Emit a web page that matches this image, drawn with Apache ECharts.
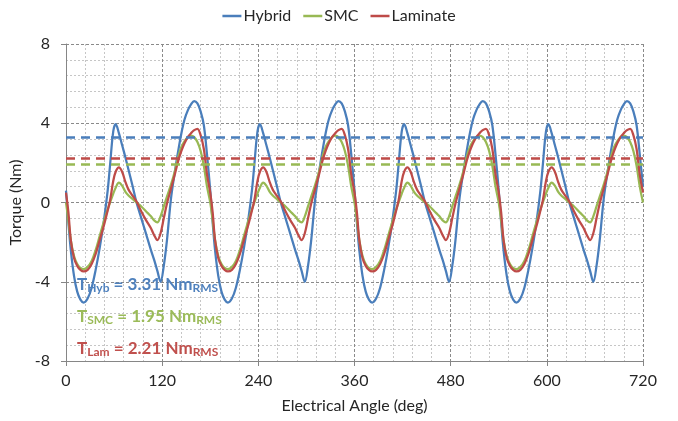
<!DOCTYPE html>
<html><head><meta charset="utf-8">
<script src="https://cdn.jsdelivr.net/npm/echarts@6/dist/echarts.min.js"></script>
<style>html,body{margin:0;padding:0;background:#fff}#c{width:678px;height:421px}</style>
</head><body><div id="c"></div>
<script>
const seriesNames = ['Hybrid', 'SMC', 'Laminate'];
const xTicks = [0, 120, 240, 360, 480, 600, 720];
const yTicks = [-8, -4, 0, 4, 8];
const rmsHybrid = 3.31;
const rmsSMC = 1.95;
const rmsLaminate = 2.21;

const angles = [
0,3,6,10,14,18,22,27,32,37,42,47,52,55,59,62,66,70,74,78,83,88,94,100,106,110,114,118,122,126,131,136,140,144,148,152,156,160,164,168,172,176,
180,183,186,190,194,198,202,207,212,217,222,227,232,235,239,242,246,250,254,258,263,268,274,280,286,290,294,298,302,306,311,316,320,324,328,332,336,340,344,348,352,356,
360,363,366,370,374,378,382,387,392,397,402,407,412,415,419,422,426,430,434,438,443,448,454,460,466,470,474,478,482,486,491,496,500,504,508,512,516,520,524,528,532,536,
540,543,546,550,554,558,562,567,572,577,582,587,592,595,599,602,606,610,614,618,623,628,634,640,646,650,654,658,662,666,671,676,680,684,688,692,696,700,704,708,712,716,
720];

const hybrid = [
0.6,-1.0,-2.4,-3.7,-4.5,-4.9,-5.05,-4.85,-4.3,-3.4,-2.3,-1.0,0.6,1.9,3.6,3.95,3.5,2.9,2.3,1.65,0.85,0.0,-0.8,-1.6,-2.4,-2.9,-3.45,-4.0,-3.2,-1.9,0.2,1.6,2.6,3.5,4.2,4.65,4.95,5.12,5.0,4.6,3.9,2.4,
0.6,-1.0,-2.4,-3.7,-4.5,-4.9,-5.05,-4.85,-4.3,-3.4,-2.3,-1.0,0.6,1.9,3.6,3.95,3.5,2.9,2.3,1.65,0.85,0.0,-0.8,-1.6,-2.4,-2.9,-3.45,-4.0,-3.2,-1.9,0.2,1.6,2.6,3.5,4.2,4.65,4.95,5.12,5.0,4.6,3.9,2.4,
0.6,-1.0,-2.4,-3.7,-4.5,-4.9,-5.05,-4.85,-4.3,-3.4,-2.3,-1.0,0.6,1.9,3.6,3.95,3.5,2.9,2.3,1.65,0.85,0.0,-0.8,-1.6,-2.4,-2.9,-3.45,-4.0,-3.2,-1.9,0.2,1.6,2.6,3.5,4.2,4.65,4.95,5.12,5.0,4.6,3.9,2.4,
0.6,-1.0,-2.4,-3.7,-4.5,-4.9,-5.05,-4.85,-4.3,-3.4,-2.3,-1.0,0.6,1.9,3.6,3.95,3.5,2.9,2.3,1.65,0.85,0.0,-0.8,-1.6,-2.4,-2.9,-3.45,-4.0,-3.2,-1.9,0.2,1.6,2.6,3.5,4.2,4.65,4.95,5.12,5.0,4.6,3.9,2.4,
0.8];

const smc = [
0.0,-0.9,-1.9,-2.7,-3.1,-3.3,-3.36,-3.25,-2.95,-2.4,-1.7,-1.0,-0.35,0.0,0.45,0.75,1.0,0.85,0.55,0.35,0.18,0.0,-0.2,-0.45,-0.7,-0.9,-1.0,-0.7,-0.2,0.3,0.9,1.6,2.3,2.8,3.1,3.3,3.38,3.3,3.05,2.6,1.85,0.8,
0.0,-0.9,-1.9,-2.7,-3.1,-3.3,-3.36,-3.25,-2.95,-2.4,-1.7,-1.0,-0.35,0.0,0.45,0.75,1.0,0.85,0.55,0.35,0.18,0.0,-0.2,-0.45,-0.7,-0.9,-1.0,-0.7,-0.2,0.3,0.9,1.6,2.3,2.8,3.1,3.3,3.38,3.3,3.05,2.6,1.85,0.8,
0.0,-0.9,-1.9,-2.7,-3.1,-3.3,-3.36,-3.25,-2.95,-2.4,-1.7,-1.0,-0.35,0.0,0.45,0.75,1.0,0.85,0.55,0.35,0.18,0.0,-0.2,-0.45,-0.7,-0.9,-1.0,-0.7,-0.2,0.3,0.9,1.6,2.3,2.8,3.1,3.3,3.38,3.3,3.05,2.6,1.85,0.8,
0.0,-0.9,-1.9,-2.7,-3.1,-3.3,-3.36,-3.25,-2.95,-2.4,-1.7,-1.0,-0.35,0.0,0.45,0.75,1.0,0.85,0.55,0.35,0.18,0.0,-0.2,-0.45,-0.7,-0.9,-1.0,-0.7,-0.2,0.3,0.9,1.6,2.3,2.8,3.1,3.3,3.38,3.3,3.05,2.6,1.85,0.8,
0.0];

const laminate = [
0.5,-0.5,-1.9,-2.8,-3.2,-3.4,-3.48,-3.4,-3.1,-2.6,-1.9,-1.2,-0.4,0.1,1.1,1.55,1.77,1.55,1.05,0.65,0.35,0.05,-0.45,-0.9,-1.3,-1.65,-1.9,-1.55,-0.8,-0.05,0.7,1.45,2.1,2.6,3.0,3.3,3.5,3.65,3.72,3.4,2.7,1.4,
0.5,-0.5,-1.9,-2.8,-3.2,-3.4,-3.48,-3.4,-3.1,-2.6,-1.9,-1.2,-0.4,0.1,1.1,1.55,1.77,1.55,1.05,0.65,0.35,0.05,-0.45,-0.9,-1.3,-1.65,-1.9,-1.55,-0.8,-0.05,0.7,1.45,2.1,2.6,3.0,3.3,3.5,3.65,3.72,3.4,2.7,1.4,
0.5,-0.5,-1.9,-2.8,-3.2,-3.4,-3.48,-3.4,-3.1,-2.6,-1.9,-1.2,-0.4,0.1,1.1,1.55,1.77,1.55,1.05,0.65,0.35,0.05,-0.45,-0.9,-1.3,-1.65,-1.9,-1.55,-0.8,-0.05,0.7,1.45,2.1,2.6,3.0,3.3,3.5,3.65,3.72,3.4,2.7,1.4,
0.5,-0.5,-1.9,-2.8,-3.2,-3.4,-3.48,-3.4,-3.1,-2.6,-1.9,-1.2,-0.4,0.1,1.1,1.55,1.77,1.55,1.05,0.65,0.35,0.05,-0.45,-0.9,-1.3,-1.65,-1.9,-1.55,-0.8,-0.05,0.7,1.45,2.1,2.6,3.0,3.3,3.5,3.65,3.72,3.4,2.7,1.4,
0.5];

const lineColors = ['#4A7EBB', '#98B954', '#BE4B48'];
const textColors = ['#4F81BD', '#9BBB59', '#C0504D'];
const FONT = 'Lato, "Liberation Sans", sans-serif';

function pairs(vals) { return angles.map((a, i) => [a, vals[i]]); }
function rmsLine(v, color) {
  return {
    silent: true, symbol: 'none', animation: false,
    label: { show: false },
    lineStyle: { color: color, width: 2.6, type: [9, 6] },
    emphasis: { disabled: true },
    data: [{ yAxis: v }]
  };
}
const allSeries = [hybrid, smc, laminate];
const rmsList = [rmsHybrid, rmsSMC, rmsLaminate];

function annot(top, sub, val, color) {
  return {
    type: 'text', left: 77, top: top, z: 100,
    style: {
      text: '{m|T}{s|' + sub + '}{m| = ' + val + ' Nm}{s|RMS}',
      fill: color,
      rich: {
        m: { fontFamily: FONT, fontWeight: 'bold', fontSize: 17, lineHeight: 20, fill: color, verticalAlign: 'middle' },
        s: { fontFamily: FONT, fontWeight: 'bold', fontSize: 12, lineHeight: 14, fill: color, verticalAlign: 'bottom' }
      }
    }
  };
}

const chart = echarts.init(document.getElementById('c'), null, { renderer: 'canvas' });
const axisCommon = {
  axisLine: { show: true, onZero: false, lineStyle: { color: '#868686', width: 1 } },
  axisTick: { show: true, length: 5, lineStyle: { color: '#868686' } },
  splitLine: { show: true, lineStyle: { color: '#8a8a8a', width: 1, type: [3, 2] } },
  minorTick: { show: false, splitNumber: 5 },
  minorSplitLine: { show: true, lineStyle: { color: '#c6c6c6', width: 1, type: [2, 2] } },
  nameLocation: 'middle',
  nameTextStyle: { fontFamily: FONT, fontSize: 16, color: '#262626' }
};
chart.setOption({
  animation: false,
  textStyle: { fontFamily: FONT },
  legend: {
    top: 3, left: 'center', itemWidth: 19, itemHeight: 2.5, itemGap: 12,
    icon: 'rect',
    data: seriesNames,
    textStyle: { fontFamily: FONT, fontSize: 16, color: '#262626', padding: [0, 0, 0, -3] }
  },
  grid: { left: 66, right: 35, top: 44, bottom: 60, outerBoundsMode: 'none', containLabel: false },
  xAxis: Object.assign({}, axisCommon, {
    type: 'value', min: xTicks[0], max: xTicks[xTicks.length - 1], interval: 120,
    name: 'Electrical Angle (deg)', nameGap: 37,
    axisLabel: { fontFamily: FONT, fontSize: 16, color: '#262626', margin: 12 }
  }),
  yAxis: Object.assign({}, axisCommon, {
    type: 'value', min: yTicks[0], max: yTicks[yTicks.length - 1], interval: 4,
    name: 'Torque (Nm)', nameGap: 34,
    axisLabel: { fontFamily: FONT, fontSize: 16, color: '#262626', margin: 16 }
  }),
  series: seriesNames.map((n, i) => ({
    name: n, type: 'line', data: pairs(allSeries[i]),
    symbol: 'none', smooth: 0.35, clip: true,
    lineStyle: { color: lineColors[i], width: 2.25 },
    itemStyle: { color: lineColors[i] },
    markLine: rmsLine(rmsList[i], lineColors[i])
  })),
  graphic: [
    annot(276, 'Hyb', rmsHybrid.toFixed(2), textColors[0]),
    annot(308, 'SMC', rmsSMC.toFixed(2), textColors[1]),
    annot(340, 'Lam', rmsLaminate.toFixed(2), textColors[2])
  ]
});
</script>
</body></html>
